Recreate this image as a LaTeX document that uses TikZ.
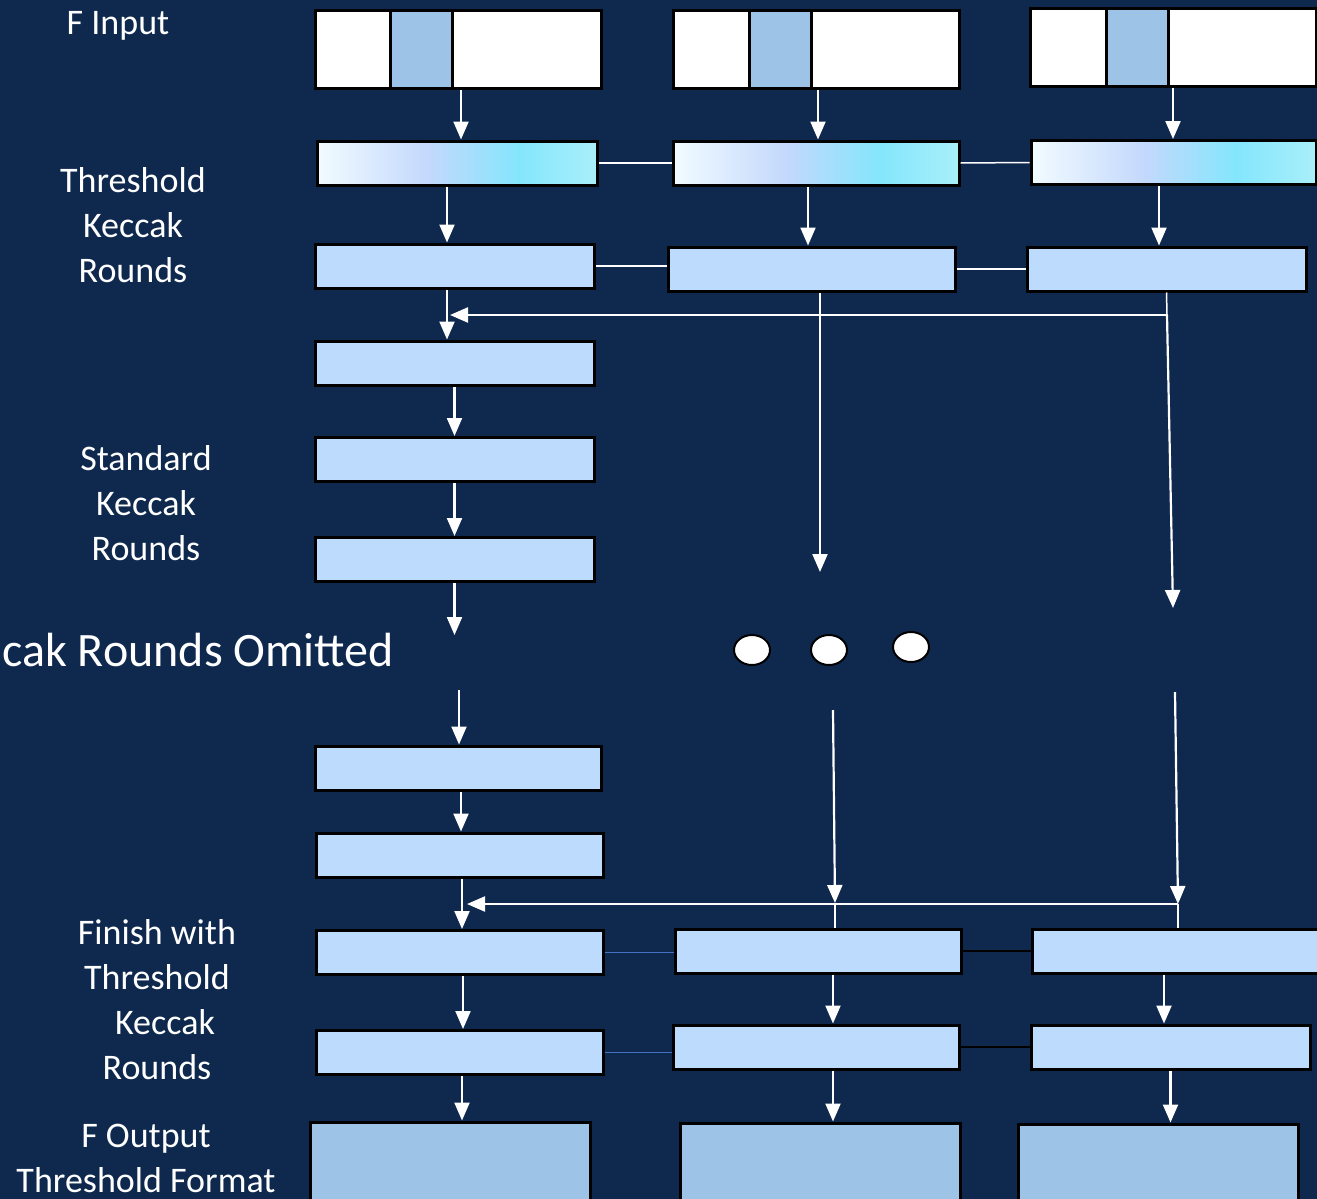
\documentclass[tikz,border=0pt]{standalone}
\usepackage{fontspec}
\setmainfont{Carlito}
\usepackage{xcolor}
\usepackage{tikz}
\usetikzlibrary{arrows.meta,shapes.geometric}
\definecolor{navybg}{HTML}{0E284E}
\definecolor{roundfill}{HTML}{BDDBFD}
\definecolor{outblue}{HTML}{9DC3E6}
\definecolor{linkblue}{HTML}{4472C4}
\definecolor{gradA}{HTML}{F2FBFF}
\definecolor{gradB}{HTML}{C3D8FC}
\definecolor{gradC}{HTML}{84E6FC}
\definecolor{gradD}{HTML}{A9EFFA}
\pgfdeclarehorizontalshading{thgrad}{100bp}{color(0bp)=(gradA);
    color(25bp)=(gradA); color(45bp)=(gradB); color(61bp)=(gradC);
    color(75bp)=(gradD); color(100bp)=(gradD)}
\tikzset {
    inbox/.style={draw=black, line width=1.5pt, fill=white, inner sep=0pt,
        minimum width=143pt, minimum height=39pt},
    slot/.style={draw=black, line width=1.5pt, fill=outblue, inner sep=0pt,
        minimum width=31pt, minimum height=39pt},
    thbox/.style={draw=black, line width=1.5pt, shade, shading=thgrad,
        inner sep=0pt, minimum height=22pt},
    rbox/.style={draw=black, line width=1.5pt, fill=roundfill, inner sep=0pt,
        minimum height=22pt},
    outbox/.style={draw=black, line width=1.5pt, fill=outblue, inner sep=0pt,
        minimum width=140pt, minimum height=59pt},
    dot/.style={draw=black, line width=1pt, fill=white, ellipse, inner sep=0pt,
        minimum width=18pt, minimum height=15pt},
    arr/.style={draw=white, line width=1.1pt, -{Triangle[length=9pt,width=7.5pt]}},
    link/.style={draw=white, line width=0.75pt}
}

\begin{document}
\begin{tikzpicture}[x=0.5pt, y=-0.5pt]

        \tikzstyle{lbl}=[text=white, align=center, inner sep=0pt,
            font=\fontsize{18}{22.5}\selectfont]

        \fill[navybg] (0,0) rectangle (1317,1199);
        \useasboundingbox (0,0) rectangle (1317,1199);
        \clip (0,0) rectangle (1317,1199);

        \node[lbl] (lin) at (118,26) {F Input};
        \node[lbl] (lth) at (133,225) {Threshold\\Keccak\\Rounds};
        \node[lbl] (lst) at (146,503) {Standard\\Keccak\\Rounds};
        \node[lbl, anchor=west, font=\fontsize{24}{29}\selectfont] (lom)
            at (2,650) {cak Rounds Omitted};
        \node[lbl] (lfi) at (157,1000) {Finish with\\Threshold\\\hspace*{8pt}Keccak\\Rounds};
        \node[lbl] (lout) at (146,1158) {F Output\\Threshold Format};

        \node[inbox] (in1) at (458,49) {};
        \node[slot] (sl1) at (421,49) {};
        \node[inbox] (in2) at (816.5,49) {};
        \node[slot] (sl2) at (780,49) {};
        \node[inbox] (in3) at (1173,47) {};
        \node[slot] (sl3) at (1137,47) {};

        \node[thbox, minimum width=140pt] (th1) at (457,163) {};
        \node[thbox, minimum width=143pt] (th2) at (816,163) {};
        \node[thbox, minimum width=142.5pt] (th3) at (1173.5,162.5) {};

        \node[rbox, minimum width=139.5pt] (r1) at (454.5,266) {};
        \node[rbox, minimum width=143.5pt] (r2) at (811.5,269) {};
        \node[rbox, minimum width=139.5pt] (r3) at (1166.5,269) {};

        \node[rbox, minimum width=139.5pt] (s1) at (454.5,363) {};
        \node[rbox, minimum width=139.5pt] (s2) at (454.5,459.5) {};
        \node[rbox, minimum width=139.5pt] (s3) at (454.5,559.5) {};
        \node[rbox, minimum width=143pt] (s4) at (458,768) {};
        \node[rbox, minimum width=143.5pt] (s5) at (459.5,855) {};

        \node[dot] (dot1) at (752,650) {};
        \node[dot] (dot2) at (829,650) {};
        \node[dot] (dot3) at (911,647) {};

        \node[rbox, minimum width=143.5pt] (f1) at (459.5,952.5) {};
        \node[rbox, minimum width=143.5pt] (f2) at (459.5,1052.5) {};
        \node[rbox, minimum width=143pt] (f3) at (818,951) {};
        \node[rbox, minimum width=143pt] (f4) at (816,1047) {};
        \node[rbox, minimum width=154pt] (f5) at (1186,951) {};
        \node[rbox, minimum width=139.5pt] (f6) at (1170.5,1047) {};

        \node[outbox] (o1) at (450,1181) {};
        \node[outbox] (o2) at (820,1182) {};
        \node[outbox] (o3) at (1158,1183) {};

        \coordinate (c1top) at (455,635);
        \coordinate (c1bot) at (459,690);
        \coordinate (c2top) at (820,572);
        \coordinate (c2bot) at (833,710);
        \coordinate (c2mid) at (835,903);
        \coordinate (c3up) at (1167,315);
        \coordinate (c3top) at (1173,608);
        \coordinate (c3bot) at (1175,692);
        \coordinate (c3mid) at (1178,904);
        \coordinate (fbA) at (450,315);
        \coordinate (fbB) at (467,904);

        \draw[link] (th1.east) -- (th2.west);
        \draw[link] (th2.east) -- (th3.west);
        \draw[link] (r1.east) -- (r1.east -| r2.west);
        \draw[link] (r2.east) -- (r2.east -| r3.west);
        \draw[link, draw=linkblue] (f1.east) -- (f1.east -| f3.west);
        \draw[link, draw=black] (f3.east) -- (f3.east -| f5.west);
        \draw[link, draw=linkblue] (f2.east) -- (f2.east -| f4.west);
        \draw[link, draw=black] (f4.east) -- (f4.east -| f6.west);

        \draw[arr] ([xshift=1.5pt]in1.south) -- ([xshift=1.5pt]in1.south |- th1.north);
        \draw[arr] ([xshift=-5pt]th1.south) -- ([xshift=-5pt]th1.south |- r1.north);
        \draw[arr] ([xshift=-3.75pt]r1.south) -- ([xshift=-3.75pt]r1.south |- s1.north);
        \draw[arr] (s1.south) -- (s1.south |- s2.north);
        \draw[arr] (s2.south) -- (s2.south |- s3.north);
        \draw[arr] (s3.south) -- (s3.south |- c1top);
        \draw[arr] (c1bot) -- (c1bot |- s4.north);
        \draw[arr] ([xshift=1.5pt]s4.south) -- ([xshift=1.5pt]s4.south |- s5.north);
        \draw[arr] ([xshift=1.25pt]s5.south) -- ([xshift=1.25pt]s5.south |- f1.north);
        \draw[arr] ([xshift=1.75pt]f1.south) -- ([xshift=1.75pt]f1.south |- f2.north);
        \draw[arr] ([xshift=1.25pt]f2.south) -- ([xshift=1.25pt]f2.south |- o1.north);

        \draw[arr] ([xshift=0.75pt]in2.south) -- ([xshift=0.75pt]in2.south |- th2.north);
        \draw[arr] ([xshift=-4pt]th2.south) -- ([xshift=-4pt]th2.south |- r2.north);
        \draw[arr] ([xshift=4.25pt]r2.south) -- (c2top);
        \draw[arr] (c2bot) -- (c2mid);
        \draw[link] (c2mid) -- (c2mid |- f3.north);
        \draw[arr] ([xshift=7.5pt]f3.south) -- ([xshift=7.5pt]f3.south |- f4.north);
        \draw[arr] ([xshift=8.5pt]f4.south) -- ([xshift=8.5pt]f4.south |- o2.north);

        \draw[arr] (in3.south) -- (in3.south |- th3.north);
        \draw[arr] ([xshift=-7.25pt]th3.south) -- ([xshift=-7.25pt]th3.south |- r3.north);
        \draw[link] (r3.south) -- (c3up);
        \draw[arr] (c3up) -- (fbA);
        \draw[arr] (c3up) -- (c3top);
        \draw[arr] (c3bot) -- (c3mid);
        \draw[link] (c3mid) -- (c3mid |- f5.north);
        \draw[arr] (c3mid) -- (fbB);
        \draw[arr] ([xshift=-11pt]f5.south) -- ([xshift=-11pt]f5.south |- f6.north);
        \draw[arr] (f6.south) -- (f6.south |- o3.north);

    \end{tikzpicture}
\end{document}
